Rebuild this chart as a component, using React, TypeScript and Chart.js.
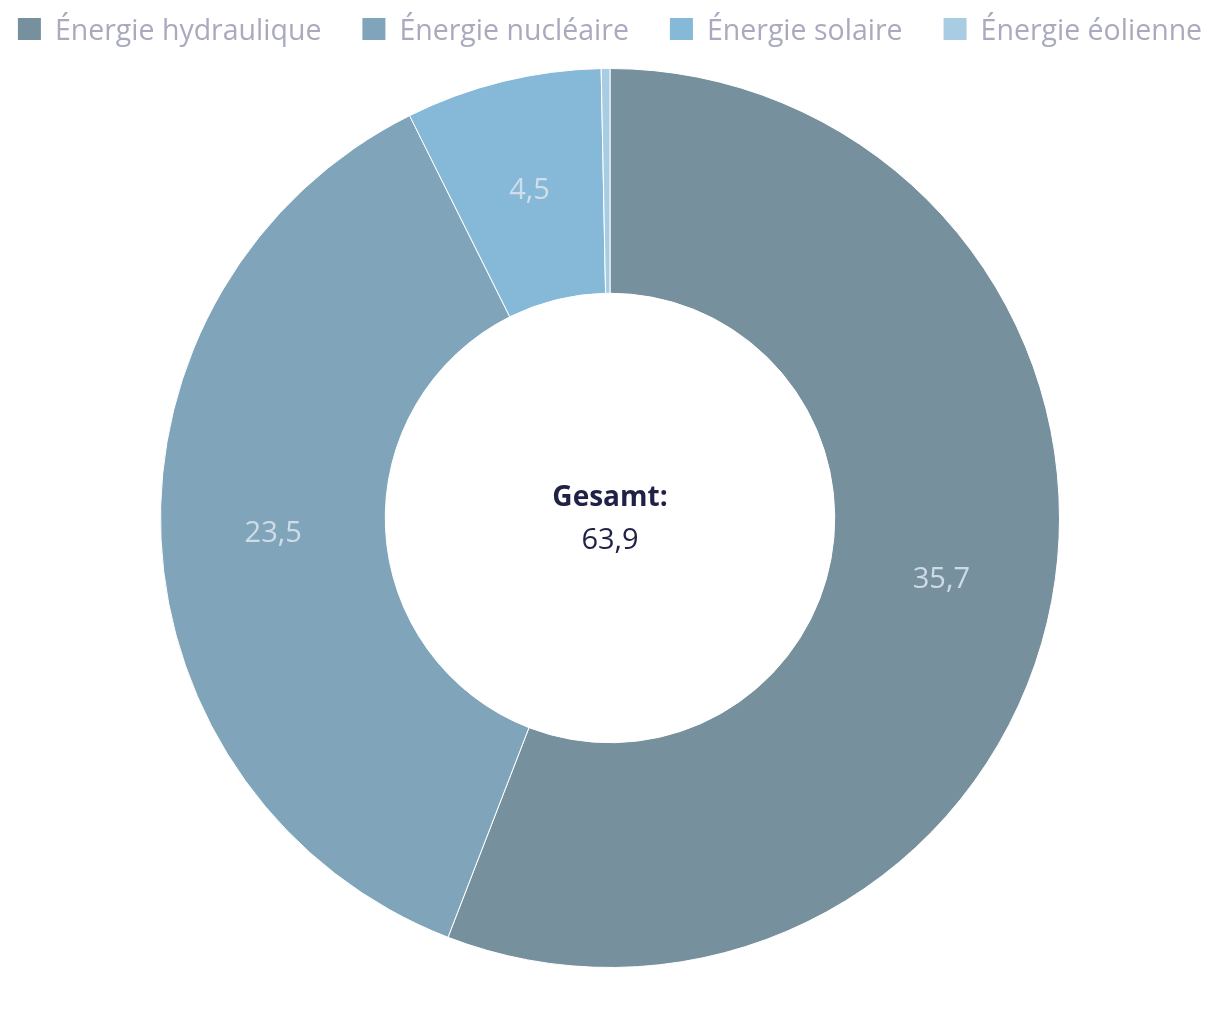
import React, { useEffect, useRef } from "react";
import { Chart, registerables } from "chart.js";

Chart.register(...registerables);

const categories = ["Énergie hydraulique", "Énergie nucléaire", "Énergie solaire", "Énergie éolienne"];
const values = [35.7, 23.5, 4.5, 0.2];
const colors = ["#76909E", "#80A5BA", "#86B9D7", "#A8CCE1"];
const totalLabel = "Gesamt:";
const totalValue = "63,9";

const FONT = "'Open Sans', 'Noto Sans', sans-serif";

const fmt = (v: number) => v.toFixed(1).replace(".", ",");

const legendPlugin = {
  id: "customLegend",
  afterDraw(chart: any) {
    const ctx = chart.ctx;
    const labels: string[] = chart.data.labels;
    const bg: string[] = chart.data.datasets[0].backgroundColor;
    const boxW = 23;
    const boxH = 22;
    const textGap = 14;
    const itemGap = 41;
    ctx.save();
    ctx.font = `400 28.5px ${FONT}`;
    const widths = labels.map((l) => ctx.measureText(l).width);
    const total =
      widths.reduce((a, b) => a + b, 0) + labels.length * (boxW + textGap) + (labels.length - 1) * itemGap;
    let x = (chart.width - total) / 2;
    const baseline = 32;
    labels.forEach((l, i) => {
      ctx.fillStyle = bg[i];
      ctx.fillRect(x, baseline - boxH, boxW, boxH);
      x += boxW + textGap;
      ctx.fillStyle = "#AAAABE";
      ctx.textAlign = "left";
      ctx.textBaseline = "alphabetic";
      ctx.fillText(l, x, baseline);
      x += widths[i] + itemGap;
    });
    ctx.restore();
  },
};

const labelPlugin = {
  id: "sliceLabels",
  afterDatasetsDraw(chart: any) {
    const ctx = chart.ctx;
    const meta = chart.getDatasetMeta(0);
    const sum = values.reduce((a, b) => a + b, 0);
    ctx.save();
    ctx.font = `400 29px ${FONT}`;
    ctx.fillStyle = "rgba(214,225,236,0.92)";
    ctx.textAlign = "center";
    ctx.textBaseline = "middle";
    meta.data.forEach((arc: any, i: number) => {
      const v = values[i];
      if (v / sum < 0.02) return;
      const p = arc.tooltipPosition();
      ctx.fillText(fmt(v), p.x, p.y);
    });
    const a0 = meta.data[0];
    const cx = a0.x;
    const cy = a0.y;
    ctx.fillStyle = "#1F2246";
    ctx.font = `700 28px ${FONT}`;
    ctx.fillText(totalLabel, cx, cy - 20);
    ctx.font = `400 29px ${FONT}`;
    ctx.fillText(totalValue, cx, cy + 23);
    ctx.restore();
  },
};

export default function App() {
  const ref = useRef<HTMLCanvasElement>(null);
  useEffect(() => {
    if (!ref.current) return;
    const chart = new Chart(ref.current, {
      type: "doughnut",
      data: {
        labels: categories,
        datasets: [
          {
            data: values,
            backgroundColor: colors,
            borderColor: "#ffffff",
            borderWidth: 1,
          },
        ],
      },
      options: {
        animation: false,
        responsive: false,
        cutout: "50%",
        layout: { padding: { top: 60, bottom: 52 } },
        plugins: {
          legend: { display: false },
          tooltip: { enabled: false },
        },
      },
      plugins: [labelPlugin, legendPlugin],
    });
    return () => chart.destroy();
  }, []);
  return (
    <div style={{ width: 1204, height: 1012 }}>
      <canvas ref={ref} width={1204} height={1012} style={{ display: "block" }} />
    </div>
  );
}
